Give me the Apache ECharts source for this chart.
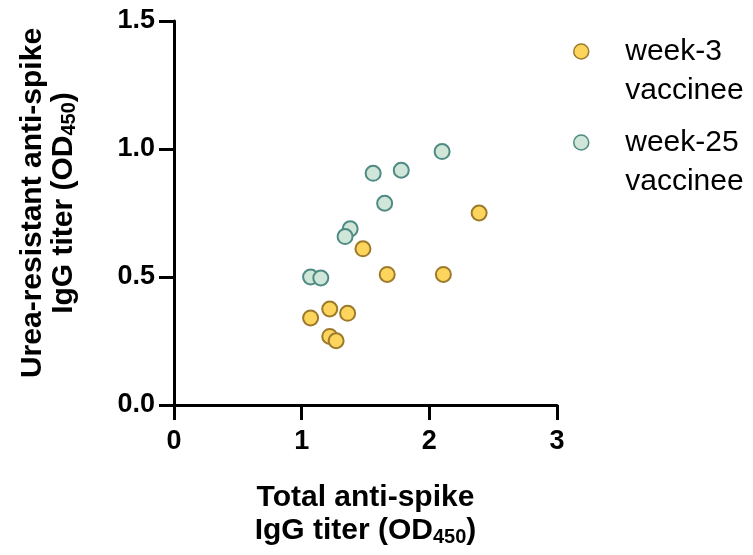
<!DOCTYPE html>
<html>
<head>
<meta charset="utf-8">
<script src="https://cdn.jsdelivr.net/npm/echarts@6/dist/echarts.min.js"></script>
<style>
  html, body { margin: 0; padding: 0; background: #fff; }
  #chart { width: 753px; height: 555px; }
</style>
</head>
<body>
<div id="chart"></div>
<script>
// Total vs urea-resistant anti-spike IgG titers (OD450) per vaccinee
const week3Total = [2.39, 1.48, 1.67, 2.11, 1.07, 1.22, 1.36, 1.22, 1.27];
const week3Urea  = [0.75, 0.61, 0.51, 0.51, 0.34, 0.375, 0.358, 0.268, 0.251];
const week25Total = [2.10, 1.56, 1.78, 1.65, 1.38, 1.34, 1.07, 1.15];
const week25Urea  = [0.99, 0.905, 0.917, 0.788, 0.688, 0.658, 0.50, 0.496];
const seriesNames = ['week-3 vaccinee', 'week-25 vaccinee'];
const xTicks = [0, 1, 2, 3];
const yTicks = [0, 0.5, 1.0, 1.5];

const FONT = '"Liberation Sans", Arial, Helvetica, sans-serif';
const pairs = (xs, ys) => xs.map((x, i) => [x, ys[i]]);

const subStyle = {
  fontSize: 20, fontWeight: 'bold', fontFamily: FONT, color: '#000',
  verticalAlign: 'bottom', lineHeight: 12
};

const axisCommon = {
  axisLine: { show: true, onZero: false, lineStyle: { color: '#000', width: 3 } },
  axisTick: { show: true, inside: false, length: 15, lineStyle: { color: '#000', width: 3 } },
  splitLine: { show: false },
  nameLocation: 'middle'
};

// Legend entries: the leading blank line keeps the marker level with the first text line
const legendCommon = {
  orient: 'vertical',
  left: 573,
  padding: 0,
  itemWidth: 78,
  itemHeight: 15,
  formatter: name => '\n' + name.replace(' ', '\n'),
  itemStyle: { borderWidth: 1.5 },
  textStyle: { fontSize: 30, fontFamily: FONT, color: '#000', lineHeight: 39 }
};

const chart = echarts.init(document.getElementById('chart'), null, { renderer: 'canvas' });
chart.setOption({
  animation: false,
  backgroundColor: '#fff',
  grid: { left: 174, right: 196, top: 21, bottom: 150, containLabel: false },
  legend: [
    Object.assign({}, legendCommon, { top: -7, data: [seriesNames[0]] }),
    Object.assign({}, legendCommon, { top: 84, data: [seriesNames[1]] })
  ],
  xAxis: Object.assign({}, axisCommon, {
    type: 'value',
    min: xTicks[0], max: xTicks[xTicks.length - 1], interval: 1,
    axisLabel: {
      margin: 23, fontSize: 27, fontWeight: 'bold', fontFamily: FONT, color: '#000',
      formatter: v => String(v)
    },
    name: 'Total anti-spike\nIgG titer (OD{sub|450})',
    nameGap: 76,
    nameTextStyle: {
      fontSize: 30, fontWeight: 'bold', fontFamily: FONT, color: '#000',
      lineHeight: 33, rich: { sub: subStyle }
    }
  }),
  yAxis: Object.assign({}, axisCommon, {
    type: 'value',
    min: yTicks[0], max: yTicks[yTicks.length - 1], interval: 0.5,
    axisLabel: {
      margin: 19, fontSize: 27, fontWeight: 'bold', fontFamily: FONT, color: '#000',
      formatter: v => v.toFixed(1)
    },
    name: 'Urea-resistant anti-spike\nIgG titer (OD{sub|450})',
    nameGap: 95,
    nameTextStyle: {
      fontSize: 30, fontWeight: 'bold', fontFamily: FONT, color: '#000',
      lineHeight: 31, padding: [0, 0, 0, 20], rich: { sub: subStyle }
    }
  }),
  series: [
    {
      name: seriesNames[0],
      type: 'scatter',
      symbol: 'circle',
      symbolSize: 15,
      data: pairs(week3Total, week3Urea),
      itemStyle: { color: '#FDD45C', borderColor: '#9C7A2C', borderWidth: 2, opacity: 1 }
    },
    {
      name: seriesNames[1],
      type: 'scatter',
      symbol: 'circle',
      symbolSize: 15,
      data: pairs(week25Total, week25Urea),
      itemStyle: { color: '#CFE6D8', borderColor: '#4E8B83', borderWidth: 2, opacity: 1 }
    }
  ]
});
</script>
</body>
</html>
